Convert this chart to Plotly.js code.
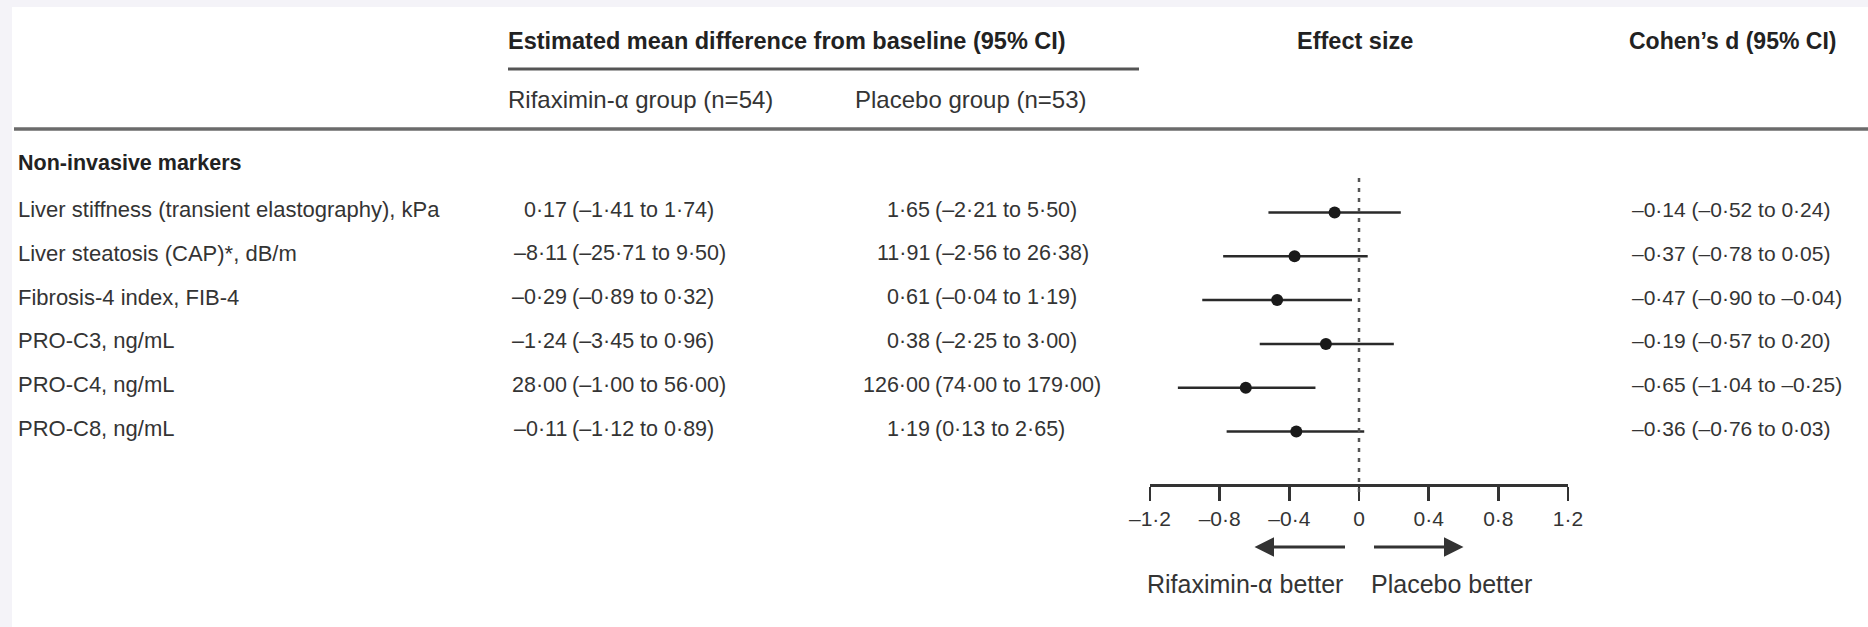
<!DOCTYPE html>
<html>
<head>
<meta charset="utf-8">
<script src="https://cdn.plot.ly/plotly-3.0.1.min.js"></script>
<style>html,body{margin:0;padding:0;background:#f4f3f8;}#chart{width:1868px;height:627px;}</style>
</head>
<body>
<div id="chart"></div>
<script>
// ---- data ----
const markers = [
  "Liver stiffness (transient elastography), kPa",
  "Liver steatosis (CAP)*, dB/m",
  "Fibrosis-4 index, FIB-4",
  "PRO-C3, ng/mL",
  "PRO-C4, ng/mL",
  "PRO-C8, ng/mL"
];
const rifEst = [0.17, -8.11, -0.29, -1.24, 28.00, -0.11];
const rifLo  = [-1.41, -25.71, -0.89, -3.45, -1.00, -1.12];
const rifHi  = [1.74, 9.50, 0.32, 0.96, 56.00, 0.89];
const plaEst = [1.65, 11.91, 0.61, 0.38, 126.00, 1.19];
const plaLo  = [-2.21, -2.56, -0.04, -2.25, 74.00, 0.13];
const plaHi  = [5.50, 26.38, 1.19, 3.00, 179.00, 2.65];
const dEst = [-0.14, -0.37, -0.47, -0.19, -0.65, -0.36];
const dLo  = [-0.52, -0.78, -0.90, -0.57, -1.04, -0.76];
const dHi  = [0.24, 0.05, -0.04, 0.20, -0.25, 0.03];
const tickVals = [-1.2, -0.8, -0.4, 0, 0.4, 0.8, 1.2];
const sectionTitle = "Non-invasive markers";
const headMain = "Estimated mean difference from baseline (95% CI)";
const headRif = "Rifaximin-α group (n=54)";
const headPla = "Placebo group (n=53)";
const headEffect = "Effect size";
const headD = "Cohen’s d (95% CI)";
const leftLabel = "Rifaximin-α better";
const rightLabel = "Placebo better";

// ---- helpers ----
const W = 1868, H = 627;
const px = x => x / W;
const py = y => 1 - y / H;
const fmt = v => v.toFixed(2).replace('.', '·').replace('-', '–');
const fmtTick = v => (v === 0 ? '0' : v.toFixed(1).replace('.', '·').replace('-', '–'));
const ci = (lo, hi) => '(' + fmt(lo) + ' to ' + fmt(hi) + ')';

const FONT = 'Liberation Sans, Arial, sans-serif';
const TXT = '#343434';
const rows = markers.map((_, i) => i);

const ann = [];
function txt(x, y, text, size, opts) {
  ann.push(Object.assign({
    x: x, y: y, xref: 'paper', yref: 'paper', text: text, showarrow: false,
    xanchor: 'left', yanchor: 'middle', borderpad: 0,
    font: {family: FONT, size: size, color: TXT}
  }, opts || {}));
}
const boldF = s => ({family: FONT, size: s, color: '#222222'});
// headers
txt(px(507), py(41), '<b>' + headMain + '</b>', 23.5, {font: boldF(23.5)});
txt(px(1355), py(41), '<b>' + headEffect + '</b>', 23.5, {font: boldF(23.5), xanchor: 'center'});
txt(px(1628), py(41), '<b>' + headD + '</b>', 23, {font: boldF(23)});
txt(px(507), py(100), headRif, 24);
txt(px(854), py(100), headPla, 24);
txt(px(17), py(163), '<b>' + sectionTitle + '</b>', 21.5, {font: boldF(21.5)});

// rows
rows.forEach(i => {
  const o = {yref: 'y', yshift: 3};
  txt(px(17), i, markers[i], 22, o);
  txt(px(568), i, fmt(rifEst[i]), 21.5, Object.assign({xanchor: 'right'}, o));
  txt(px(571), i, ci(rifLo[i], rifHi[i]), 21.5, o);
  txt(px(931), i, fmt(plaEst[i]), 21.5, Object.assign({xanchor: 'right'}, o));
  txt(px(934), i, ci(plaLo[i], plaHi[i]), 21.5, o);
  txt(px(1631), i, fmt(dEst[i]) + ' ' + ci(dLo[i], dHi[i]), 21, o);
});

// direction arrows
ann.push({x: -0.6, y: py(547), xref: 'x', yref: 'paper', ax: 92, ay: 0, text: '',
  showarrow: true, arrowhead: 2, arrowsize: 1.3, arrowwidth: 3, arrowcolor: '#333333'});
ann.push({x: 0.6, y: py(547), xref: 'x', yref: 'paper', ax: -91, ay: 0, text: '',
  showarrow: true, arrowhead: 2, arrowsize: 1.3, arrowwidth: 3, arrowcolor: '#333333'});
txt(px(1344), py(584), leftLabel, 25, {xanchor: 'right'});
txt(px(1370), py(584), rightLabel, 25);

const shapes = [
  {type: 'rect', xref: 'paper', yref: 'paper', x0: px(12), x1: 1, y0: 0, y1: py(7),
   fillcolor: '#ffffff', line: {width: 0}, layer: 'below'},
  {type: 'line', xref: 'paper', yref: 'paper', x0: px(508), x1: px(1139), y0: py(69), y1: py(69),
   line: {color: '#555555', width: 3}},
  {type: 'line', xref: 'paper', yref: 'paper', x0: px(14), x1: 1, y0: py(129), y1: py(129),
   line: {color: '#6b6b6b', width: 3.5}},
  {type: 'line', xref: 'x', yref: 'paper', x0: 0, x1: 0, y0: py(178), y1: py(492),
   line: {color: '#555555', width: 2.5, dash: '4px,6px'}}
];

const trace = {
  type: 'scatter', mode: 'markers', x: dEst, y: rows,
  marker: {size: 12, color: '#1a1a1a'},
  error_x: {type: 'data', symmetric: false,
    array: dHi.map((h, i) => h - dEst[i]),
    arrayminus: dLo.map((l, i) => dEst[i] - l),
    width: 0, thickness: 2.5, color: '#2a2a2a'},
  hoverinfo: 'skip', showlegend: false
};

const rowTop = 212.5, rowStep = 43.8;
const layout = {
  width: W, height: H,
  margin: {l: 0, r: 0, t: 0, b: 0},
  paper_bgcolor: '#f4f3f8', plot_bgcolor: 'rgba(0,0,0,0)',
  showlegend: false,
  xaxis: {domain: [px(1150), px(1568)], range: [-1.2, 1.2], anchor: 'free', position: py(485),
    showgrid: false, zeroline: false, showline: true, linecolor: '#333333', linewidth: 2.5,
    ticks: 'outside', ticklen: 14, tickwidth: 2.5, tickcolor: '#333333',
    tickvals: tickVals, ticktext: tickVals.map(fmtTick),
    tickfont: {family: FONT, size: 21, color: TXT}, fixedrange: true},
  yaxis: {domain: [0, 1], range: [(H - rowTop) / rowStep, -rowTop / rowStep], visible: false,
    showgrid: false, zeroline: false, fixedrange: true},
  shapes: shapes,
  annotations: ann
};

Plotly.newPlot('chart', [trace], layout, {displayModeBar: false, staticPlot: true});
</script>
</body>
</html>
